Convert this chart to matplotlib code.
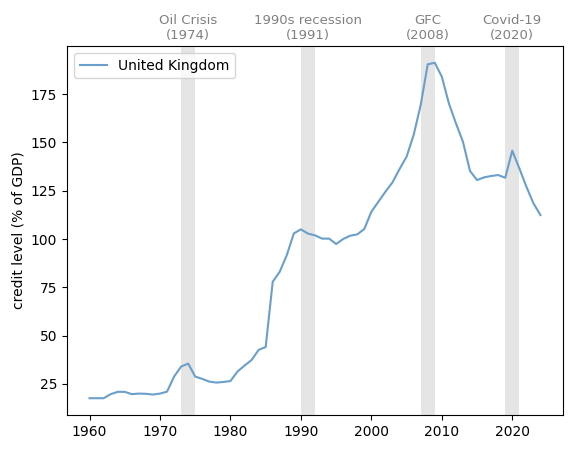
import matplotlib
matplotlib.use("Agg")
import matplotlib.pyplot as plt
import matplotlib.transforms as mtransforms

years = list(range(1960, 2025))
uk_credit = [
    17.6, 17.6, 17.6, 19.7, 20.9, 20.9, 19.7, 20.0, 19.9, 19.5,
    20.0, 21.0, 28.8, 34.0, 35.5, 28.8, 27.6, 26.2, 25.7, 26.0,
    26.5, 31.4, 34.5, 37.4, 42.6, 44.1, 77.9, 83.1, 91.7, 102.9,
    105.0, 102.8, 101.9, 100.2, 100.2, 97.4, 100.0, 101.7, 102.4, 105.2,
    114.1, 119.3, 124.5, 129.3, 136.2, 142.6, 153.8, 169.3, 190.4, 191.2,
    184.0, 170.2, 159.9, 150.3, 135.2, 130.5, 131.9, 132.6, 133.1, 131.7,
    145.7, 136.6, 127.1, 118.5, 112.4,
]

crisis_names = ["Oil Crisis", "1990s recession", "GFC", "Covid-19"]
crisis_years = [1974, 1991, 2008, 2020]
crisis_start = [1973, 1990, 2007, 2019]
crisis_end = [1975, 1992, 2009, 2021]

fig = plt.figure(figsize=(5.72, 4.49), dpi=100)
ax = fig.add_axes([67/572, 1-415/449, (563-67)/572, (415-46)/449])

ax.plot(years, uk_credit, color="#6a9fcb", lw=1.5, label="United Kingdom")

trans = mtransforms.blended_transform_factory(ax.transData, ax.transAxes)
for name, yr, s, e in zip(crisis_names, crisis_years, crisis_start, crisis_end):
    ax.axvspan(s, e, color="gray", alpha=0.2, lw=0)
    ax.text(yr, 1.012, f"{name}\n({yr})", transform=trans, ha="center", va="bottom",
            fontsize=9.5, color="gray")

ax.set_ylabel("credit level (% of GDP)")
ax.set_xticks([1960, 1970, 1980, 1990, 2000, 2010, 2020])
ax.set_yticks([25, 50, 75, 100, 125, 150, 175])
ax.legend(loc="upper left")

fig.savefig("out.png", dpi=100)
